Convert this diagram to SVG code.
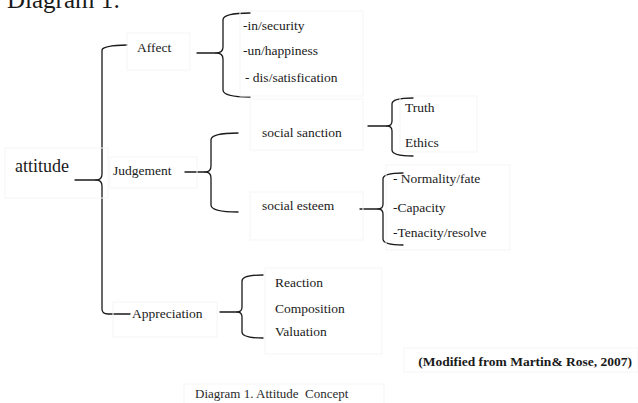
<svg xmlns="http://www.w3.org/2000/svg" width="638" height="403" viewBox="0 0 638 403">
  <style>
    .t { font-family: "Liberation Serif", "Times New Roman", serif; font-size: 13.5px; fill: #1a1a1a; }
    .frame { fill: none; stroke: #f5f5f5; stroke-width: 1; }
    .brace { fill: none; stroke: #1a1a1a; stroke-width: 1.3; stroke-linecap: round; stroke-linejoin: round; }
  </style>
  <rect width="638" height="403" fill="#ffffff"/>

  <!-- heading -->
  <text class="t" x="7" y="8" style="font-size:25px">Diagram 1:</text>

  <!-- connectors: braces and brackets -->
  <g id="connectors">
    <!-- main bracket from attitude -->
    <line class="brace" x1="75" y1="180" x2="96" y2="180"/>
    <path class="brace" d="M127 45 Q103 45.5 102 50 L102 174 Q102 180 96 180 Q102 180 102 186 L102 309 Q102 314 108 314 L130 314"/>
    <!-- Affect brace -->
    <line class="brace" x1="197" y1="53" x2="216" y2="53"/>
    <path class="brace" d="M250 13 Q223 13 223 20 L223 47 Q223 53 216 53 Q223 53 223 59 L223 90 Q223 97 250 97"/>
    <!-- Judgement brace -->
    <line class="brace" x1="185" y1="172" x2="205" y2="172"/>
    <path class="brace" d="M238 133 Q211 133 211 140 L211 166 Q211 172 205 172 Q211 172 211 178 L211 205 Q211 212 238 212"/>
    <!-- social sanction brace -->
    <line class="brace" x1="368" y1="126" x2="387" y2="126"/>
    <path class="brace" d="M413 98 Q392 98 392 104 L392 121 Q392 126 387 126 Q392 126 392 131 L392 150 Q392 156 413 156"/>
    <!-- social esteem brace -->
    <line class="brace" x1="360" y1="209" x2="378" y2="209"/>
    <path class="brace" d="M403 173 Q383 173 383 179 L383 204 Q383 209 378 209 Q383 209 383 214 L383 239 Q383 245 403 245"/>
    <!-- Appreciation brace -->
    <line class="brace" x1="220" y1="312" x2="237" y2="312"/>
    <path class="brace" d="M263 275 Q242 275 242 281 L242 307 Q242 312 237 312 Q242 312 242 317 L242 332 Q242 338 263 338"/>
  </g>

  <g id="attitude">
    <rect class="frame" x="5" y="148" width="103" height="50"/>
    <text class="t" x="15" y="172" style="font-size:18px">attitude</text>
  </g>

  <g id="affect">
    <rect class="frame" x="127" y="33" width="63" height="37"/>
    <text class="t" x="137" y="52">Affect</text>
  </g>

  <g id="affect-items">
    <rect class="frame" x="240" y="11" width="123" height="85"/>
    <text class="t" x="243" y="30">-in/security</text>
    <text class="t" x="243" y="55">-un/happiness</text>
    <text class="t" x="245" y="82">- dis/satisfication</text>
  </g>

  <g id="judgement">
    <rect class="frame" x="110" y="157" width="87" height="31"/>
    <text class="t" x="113" y="175">Judgement</text>
  </g>

  <g id="social-sanction">
    <rect class="frame" x="250" y="99" width="113" height="51"/>
    <text class="t" x="262" y="137">social sanction</text>
  </g>

  <g id="sanction-items">
    <rect class="frame" x="400" y="96" width="77" height="56"/>
    <text class="t" x="405" y="112">Truth</text>
    <text class="t" x="405" y="147">Ethics</text>
  </g>

  <g id="social-esteem">
    <rect class="frame" x="250" y="192" width="113" height="48"/>
    <text class="t" x="262" y="210">social esteem</text>
  </g>

  <g id="esteem-items">
    <rect class="frame" x="386" y="165" width="124" height="85"/>
    <text class="t" x="393" y="183">- Normality/fate</text>
    <text class="t" x="393" y="212">-Capacity</text>
    <text class="t" x="393" y="237">-Tenacity/resolve</text>
  </g>

  <g id="appreciation">
    <rect class="frame" x="113" y="302" width="104" height="35"/>
    <text class="t" x="132" y="318">Appreciation</text>
  </g>

  <g id="appreciation-items">
    <rect class="frame" x="265" y="268" width="117" height="86"/>
    <text class="t" x="275" y="287">Reaction</text>
    <text class="t" x="275" y="313">Composition</text>
    <text class="t" x="275" y="336">Valuation</text>
  </g>

  <g id="source">
    <rect class="frame" x="404" y="348" width="234" height="24"/>
    <text class="t" x="632" y="366" text-anchor="end" style="font-weight:bold;font-size:13.5px">(Modified from Martin&amp; Rose, 2007)</text>
  </g>

  <g id="caption">
    <rect class="frame" x="184" y="384" width="200" height="20"/>
    <text class="t" x="195" y="398" style="font-size:13px;fill:#2a2a2a" xml:space="preserve">Diagram 1. Attitude  Concept</text>
  </g>
</svg>
